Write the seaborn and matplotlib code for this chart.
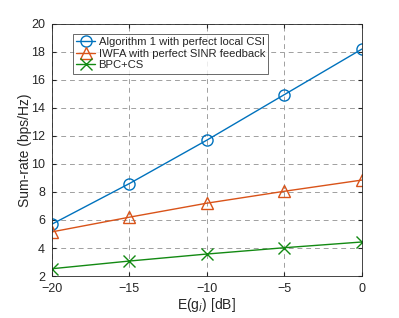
import numpy as np
import pandas as pd
import seaborn as sns
import matplotlib.pyplot as plt

x_db = [-20, -15, -10, -5, 0]
alg1 = [5.7, 8.6, 11.7, 14.95, 18.2]
iwfa = [5.15, 6.2, 7.2, 8.05, 8.85]
bpc = [2.52, 3.07, 3.57, 4.02, 4.43]
labels = ['Algorithm 1 with perfect local CSI',
          'IWFA with perfect SINR feedback',
          'BPC+CS']

sns.set_style('ticks')
plt.rcParams['font.family'] = ['Liberation Sans', 'DejaVu Sans']

fig = plt.figure(figsize=(3.99, 3.18), dpi=100)
ax = fig.add_axes([0.130, 0.132, 0.777, 0.793])

styles = [('#0072BD', 'o'), ('#D95319', '^'), ('#138a13', 'x')]
for vals, lab, (c, m) in zip([alg1, iwfa, bpc], labels, styles):
    sns.lineplot(x=x_db, y=vals, ax=ax, color=c, marker=m, label=lab,
                 markersize=8, markerfacecolor='none', markeredgecolor=c,
                 markeredgewidth=1.0, linewidth=1.0)

ax.set_xlim(-20, 0)
ax.set_ylim(2, 20)
ax.set_xticks([-20, -15, -10, -5, 0])
ax.set_yticks(range(2, 21, 2))
ax.grid(True, linestyle=(0, (5, 4)), color='#a0a0a0', linewidth=0.7)
ax.tick_params(direction='in', top=True, right=True, labelsize=9,
               colors='#262626', length=3, pad=5)
for s in ax.spines.values():
    s.set_color('#262626')
    s.set_linewidth(0.6)
ax.set_xlabel('E(g$_i$) [dB]', fontsize=10, color='#262626', labelpad=1)
ax.set_ylabel('Sum-rate (bps/Hz)', fontsize=10, color='#262626', labelpad=-1)

leg = ax.legend(loc='upper left', bbox_to_anchor=(0.06, 0.97), fontsize=8.1,
                frameon=True, fancybox=False, edgecolor='#262626',
                handlelength=1.7, handletextpad=0.3, borderpad=0.3,
                labelspacing=0.15, borderaxespad=0.2)
leg.get_frame().set_linewidth(0.6)

fig.savefig('out.png', dpi=100)
